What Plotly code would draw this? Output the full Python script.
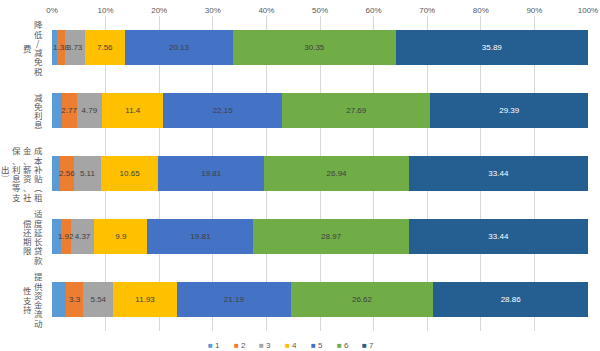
import plotly.graph_objects as go

categories = ["降低/减免税费", "减免利息", "成本补贴（租金、薪资、社保、利息等支出）",
              "适度延长贷款偿还期限", "提供资金流动性支持"]
series_names = ["1", "2", "3", "4", "5", "6", "7"]
s1 = [0.96, 1.81, 1.49, 1.59, 2.56]
s2 = [1.38, 2.77, 2.56, 1.92, 3.3]
s3 = [3.73, 4.79, 5.11, 4.37, 5.54]
s4 = [7.56, 11.4, 10.65, 9.9, 11.93]
s5 = [20.13, 22.15, 19.81, 19.81, 21.19]
s6 = [30.35, 27.69, 26.94, 28.97, 26.62]
s7 = [35.89, 29.39, 33.44, 33.44, 28.86]
series_values = [s1, s2, s3, s4, s5, s6, s7]
tick_vals = list(range(0, 101, 10))
tick_text = [f"{v}%" for v in tick_vals]

colors = ["#5B9BD5", "#ED7D31", "#A5A5A5", "#FFC000", "#4472C4", "#70AD47", "#255E91"]
label_colors = ["#404040"] * 6 + ["#FFFFFF"]
show_labels = [False, True, True, True, True, True, True]

NUM_FONT = "Liberation Sans, Arial, sans-serif"
CJK_FONT = "Noto Sans CJK SC, sans-serif"

fig = go.Figure()
for name, vals, col in zip(series_names, series_values, colors):
    fig.add_trace(go.Bar(
        y=categories, x=vals, orientation="h", name=name,
        marker=dict(color=col, line=dict(width=0)),
        showlegend=False, hoverinfo="skip", width=0.57,
    ))

# data labels drawn on top of all bars (centred in each segment)
base = [0.0] * len(categories)
for vals, lc, show in zip(series_values, label_colors, show_labels):
    mids = [b + v / 2 for b, v in zip(base, vals)]
    if show:
        fig.add_trace(go.Scatter(
            x=mids, y=categories, mode="text", text=[str(v) for v in vals],
            textposition="middle center", cliponaxis=False,
            textfont=dict(size=8, color=lc, family=NUM_FONT),
            showlegend=False, hoverinfo="skip",
        ))
    base = [b + v for b, v in zip(base, vals)]

annotations = []
# vertical category labels, wrapped in columns of 6 chars (right to left)
vmap = {"（": "︵", "）": "︶"}
for cat in categories:
    cols = [cat[i:i + 6] for i in range(0, len(cat), 6)]
    for k, colstr in enumerate(cols):
        n = len(colstr)
        for j, ch in enumerate(colstr):
            annotations.append(dict(
                text=vmap.get(ch, ch), x=0, xref="paper", y=cat, yref="y",
                xanchor="center", yanchor="middle", showarrow=False, borderpad=0,
                xshift=-14 - 10.8 * k, yshift=-(j - (n - 1) / 2) * 9.3,
                font=dict(size=8.5, color="#595959", family=CJK_FONT),
            ))

# compact legend below the plot (square swatch + series name)
for i, (name, col) in enumerate(zip(series_names, colors)):
    annotations.append(dict(
        text=f'<span style="color:{col};font-size:8px">■</span> {name}',
        x=0, xref="paper", y=0, yref="paper", xanchor="left", yanchor="middle",
        xshift=154 + 25.7 * i, yshift=-14, showarrow=False,
        font=dict(size=8, color="#595959", family=NUM_FONT),
    ))

fig.update_layout(
    barmode="stack",
    width=600, height=351,
    margin=dict(l=52, r=12, t=16, b=20),
    paper_bgcolor="white", plot_bgcolor="white",
    annotations=annotations,
    showlegend=False,
    xaxis=dict(side="top", range=[0, 100], tickvals=tick_vals, ticktext=tick_text,
               showgrid=True, gridcolor="#D9D9D9", gridwidth=1, zeroline=False,
               showline=False, ticks="", tickfont=dict(size=8, color="#595959", family=NUM_FONT),
               automargin=False, fixedrange=True),
    yaxis=dict(type="category", autorange="reversed", showticklabels=False,
               showgrid=False, zeroline=False, showline=False, ticks="",
               automargin=False, fixedrange=True),
)

fig.write_html("out.html")
